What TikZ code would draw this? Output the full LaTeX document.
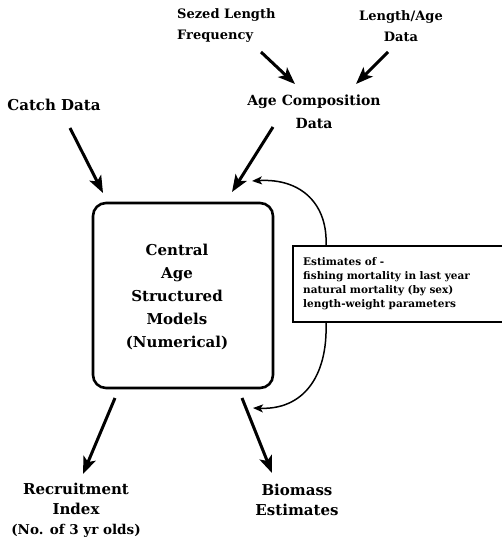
\documentclass[tikz,border=0pt]{standalone}
\usepackage{fontspec}
\setmainfont{DejaVu Serif}
\usetikzlibrary{arrows.meta}
\begin{document}
\begin{tikzpicture}[x=1pt,y=-1pt,
  lbl/.style={font=\bfseries\fontsize{15}{20}\selectfont, inner sep=0pt, align=center},
  toplbl/.style={font=\bfseries\fontsize{13}{21}\selectfont, inner sep=0pt},
  mainbox/.style={draw, line width=2.6pt, rounded corners=13pt, minimum width=180pt, minimum height=185pt, inner sep=0pt},
  estbox/.style={inner xsep=10pt, inner ysep=0pt, minimum height=76pt, text width=196pt, align=left, font=\bfseries\fontsize{10.5}{14}\selectfont},
  bigarrow/.style={line width=3pt, -{Stealth[length=17pt,width=13pt,inset=4pt]}},
  curvearrow/.style={line width=1.5pt, -{Stealth[length=10pt,width=8pt,inset=2.5pt]}}
]
\useasboundingbox (0,0) rectangle (501,545);
% labels
\node[toplbl, align=left, anchor=west] (sezed) at (177,26) {Sezed Length\\Frequency};
\node[toplbl, align=center] (lenage) at (401,26) {Length/Age\\Data};
\node[lbl, font=\bfseries\fontsize{14}{23}\selectfont] (agecomp) at (314,112) {Age Composition\\Data};
\node[lbl] (catch) at (54,105) {Catch Data};
\node[mainbox] (central) at (183,295.5) {};
\node[lbl, font=\bfseries\fontsize{15}{23}\selectfont] (ctitle) at (177,297) {Central\\Age\\Structured\\Models\\(Numerical)};
\node[estbox, anchor=west] (est) at (293,284) {Estimates of -\\fishing mortality in last year\\natural mortality (by sex)\\length-weight parameters};
\draw[line width=1.6pt] (est.north east) -- (est.north west) -- (est.south west) -- (est.south east);
\node[lbl] (recruit) at (76,510) {Recruitment\\Index\\{\fontsize{13.5}{20}\selectfont(No. of 3 yr olds)}};
\node[lbl] (biomass) at (297,500) {Biomass\\Estimates};
% connector end points
\coordinate (s1) at (261,52);  \coordinate (e1) at (295,84);
\coordinate (s2) at (388,52);  \coordinate (e2) at (356,84);
\coordinate (s3) at (273,127); \coordinate (e3) at (232,192);
\coordinate (s4) at (70,128);  \coordinate (e4) at (103,193);
\coordinate (s5) at (115,398); \coordinate (e5) at (83,474);
\coordinate (s6) at (242,398); \coordinate (e6) at (272,473);
\coordinate (c1) at (252,181);
\coordinate (c2) at (253,408);
\draw[bigarrow] (s1) -- (e1);
\draw[bigarrow] (s2) -- (e2);
\draw[bigarrow] (s3) -- (e3);
\draw[bigarrow] (s4) -- (e4);
\draw[bigarrow] (s5) -- (e5);
\draw[bigarrow] (s6) -- (e6);
\draw[curvearrow] (est.north west -| 326,0) .. controls (328,205) and (302,178) .. (c1);
\draw[curvearrow] (est.south west -| 326,0) .. controls (328,378) and (302,410) .. (c2);
\end{tikzpicture}
\end{document}
